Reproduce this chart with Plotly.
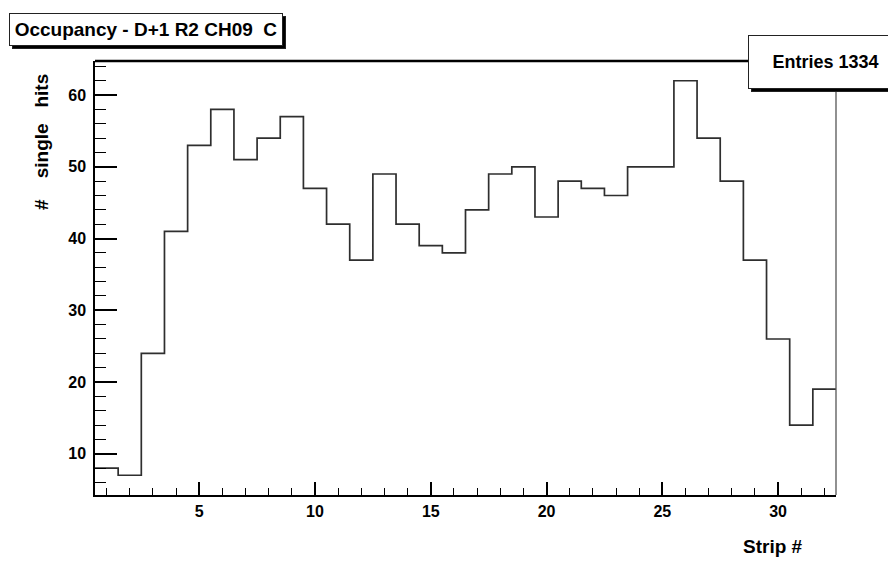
import plotly.graph_objects as go

# Strip occupancy histogram (ROOT style), one bin per strip.
strips = list(range(1, 33))
hits = [8, 7, 24, 41, 53, 58, 51, 54, 57, 47, 42, 37, 49, 42, 39, 38,
        44, 49, 50, 43, 48, 47, 46, 50, 50, 62, 54, 48, 37, 26, 14, 19]

title_text = "Occupancy - D+1 R2 CH09  C"
stats_text = f"Entries {sum(hits)}"
x_title = "Strip #"
y_title = "#\u00a0\u00a0\u00a0\u00a0single\u00a0\u00a0\u00a0hits"

font_family = "Liberation Sans, Arial, Helvetica, sans-serif"

# Step outline: left bin edges plus the final right edge.
x_edges = [s - 0.5 for s in strips] + [strips[-1] + 0.5]
y_steps = hits + [hits[-1]]

fig = go.Figure()
fig.add_trace(go.Scatter(x=x_edges, y=y_steps, mode="lines",
                         line=dict(shape="hv", color="#2e2e2e", width=1.7),
                         hoverinfo="skip", showlegend=False))

ymin = min(hits) - 0.05 * (max(hits) - min(hits))
ymax = max(hits) + 0.05 * (max(hits) - min(hits))

fig.update_xaxes(range=[strips[0] - 0.5, strips[-1] + 0.5], automargin=False,
                 showline=True, linecolor="black", linewidth=1.5,
                 showgrid=False, zeroline=False,
                 tick0=0, dtick=5, ticks="inside", ticklen=13,
                 tickwidth=1.5, tickcolor="black",
                 minor=dict(dtick=1, ticks="inside", ticklen=7,
                            tickwidth=1.2, tickcolor="black", showgrid=False),
                 ticklabelstandoff=1,
                 tickfont=dict(family=font_family, size=16, color="black",
                               weight="bold"))
fig.update_yaxes(range=[ymin, ymax], automargin=False,
                 showline=True, linecolor="black", linewidth=1.5,
                 showgrid=False, zeroline=False,
                 tick0=0, dtick=10, ticks="inside", ticklen=22,
                 tickwidth=1.5, tickcolor="black",
                 minor=dict(dtick=2, ticks="inside", ticklen=11,
                            tickwidth=1.2, tickcolor="black", showgrid=False),
                 ticklabelstandoff=4,
                 tickfont=dict(family=font_family, size=16, color="black",
                               weight="bold"))

# frame: thick top, thin grey right
fig.add_shape(type="line", xref="paper", yref="paper", x0=0, x1=1, y0=1, y1=1,
              line=dict(color="black", width=2.5))
fig.add_shape(type="line", xref="paper", yref="paper", x0=1, x1=1, y0=0, y1=1,
              line=dict(color="#555555", width=1.3))

# title box and stats box, each with a drop shadow box behind
boxes = [
    (title_text, -0.1161, 1.1106, 272, 31, 19),
    (stats_text, 0.8812, 1.0599, 153, 52, 18),
]
for text, bx, by, bw, bh, fsize in boxes:
    for shift, bg, label in [(3, "black", "\u00a0"), (0, "white", text)]:
        fig.add_annotation(xref="paper", yref="paper", x=bx, y=by,
                           xanchor="left", yanchor="top",
                           xshift=shift, yshift=-shift,
                           text=label, showarrow=False,
                           width=bw, height=bh, borderpad=0, borderwidth=1,
                           bordercolor="#222222", bgcolor=bg,
                           font=dict(family=font_family, size=fsize,
                                     color="black", weight="bold"))

# axis titles
fig.add_annotation(xref="paper", yref="paper", x=0.915, y=-0.1198,
                   xanchor="center", yanchor="middle", text=x_title,
                   showarrow=False,
                   font=dict(family=font_family, size=19, color="black",
                             weight="bold"))
fig.add_annotation(xref="paper", yref="paper", x=-0.0715, y=0.8134,
                   xanchor="center", yanchor="middle", text=y_title,
                   textangle=-90, showarrow=False,
                   font=dict(family=font_family, size=19, color="black",
                             weight="bold"))

# the page body adds an 8px margin, so the figure is 8px smaller each way
fig.update_layout(width=888, height=556,
                  margin=dict(l=87, r=60, t=53, b=69),
                  plot_bgcolor="white", paper_bgcolor="white")

fig.write_html("out.html")
